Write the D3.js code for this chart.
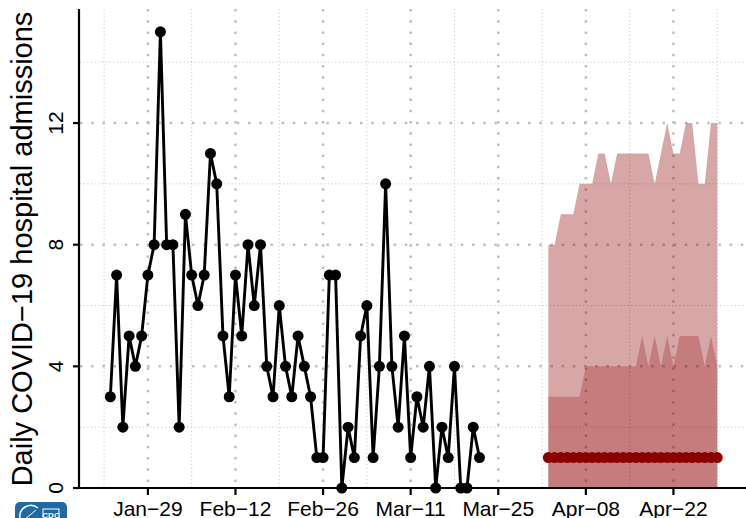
<!DOCTYPE html>
<html><head><meta charset="utf-8">
<script src="https://cdn.jsdelivr.net/npm/d3@7"></script>
<style>html,body{margin:0;padding:0;background:#fff;overflow:hidden}</style>
</head><body><svg id="c" width="746" height="518"></svg>
<script>
// ---- data ----
const obsStart = [2024, 0, 23];
const observed = [3,7,2,5,4,5,7,8,15,
  8,8,2,9,7,6,7,11,10,5,3,7,5,8,6,8,4,3,6,4,3,5,4,3,1,1,7,7,0,
  2,1,5,6,1,4,10,4,2,5,1,3,2,4,0,2,1,4,0,0,2,1];
const fcStart = [2024, 3, 2];
const fcMedian = [1,1,1,1,1,1,1,1,1,1,1,1,1,1,1,1,1,1,1,1,1,1,1,1,1,1,1,1];
const fcLower95 = [0,0,0,0,0,0,0,0,0,0,0,0,0,0,0,0,0,0,0,0,0,0,0,0,0,0,0,0];
const fcUpper95 = [8,8,9,9,9,10,10,10,11,11,10,11,11,11,11,11,11,10,11,12,11,11,12,12,10,10,12,12];
const fcLower50 = [0,0,0,0,0,0,0,0,0,0,0,0,0,0,0,0,0,0,0,0,0,0,0,0,0,0,0,0];
const fcUpper50 = [3,3,3,3,3,3,4,4,4,4,4,4,4,4,4,5,4,5,4,5,4,5,5,5,5,4,5,4];
const xTickDates = [[2024,0,29],[2024,1,12],[2024,1,26],[2024,2,11],[2024,2,25],[2024,3,8],[2024,3,22]];
const xTickLabels = ["Jan\u221229","Feb\u221212","Feb\u221226","Mar\u221211","Mar\u221225","Apr\u221208","Apr\u221222"];
const xMinorDates = [[2024,0,22],[2024,1,5],[2024,1,19],[2024,2,4],[2024,2,18],[2024,3,1],[2024,3,15],[2024,3,29]];
const yTicks = [0,4,8,12];
const yMinor = [2,6,10,14];
const yLabel = "Daily COVID\u221219 hospital admissions";

// ---- setup ----
const mk = a => new Date(a[0], a[1], a[2]);
const obsDates = observed.map((v,i) => d3.timeDay.offset(mk(obsStart), i));
const fcDates = fcMedian.map((v,i) => d3.timeDay.offset(mk(fcStart), i));
const obs = observed.map((v,i) => ({d: obsDates[i], v}));
const fc = fcMedian.map((v,i) => ({d: fcDates[i], m: v, l95: fcLower95[i], u95: fcUpper95[i], l50: fcLower50[i], u50: fcUpper50[i]}));

const dMin = obsDates[0], dMax = fcDates[fcDates.length-1];
const span = dMax - dMin;
const x = d3.scaleTime().domain([new Date(+dMin - span*0.05), new Date(+dMax + span*0.05)]).range([80, 747.6]);
const y = d3.scaleLinear().domain([0, 15.75]).range([488, 9]);

const svg = d3.select("#c");
svg.append("rect").attr("width",746).attr("height",518).attr("fill","#fff");

// grid
const g = svg.append("g");
g.selectAll(".hmin").data(yMinor).enter().append("line")
  .attr("x1",80).attr("x2",746).attr("y1",d=>y(d)).attr("y2",d=>y(d))
  .attr("stroke","#bdbdbd").attr("stroke-width",1).attr("stroke-dasharray","1 2.7");
g.selectAll(".vmin").data(xMinorDates).enter().append("line")
  .attr("x1",d=>x(mk(d))).attr("x2",d=>x(mk(d))).attr("y1",9).attr("y2",488)
  .attr("stroke","#bdbdbd").attr("stroke-width",1).attr("stroke-dasharray","1 2.7");
g.selectAll(".hmaj").data(yTicks.filter(d=>d>0)).enter().append("line")
  .attr("x1",80).attr("x2",746).attr("y1",d=>y(d)).attr("y2",d=>y(d))
  .attr("stroke","#bfbfbf").attr("stroke-width",2.5).attr("stroke-dasharray","2.5 8.7");
g.selectAll(".vmaj").data(xTickDates).enter().append("line")
  .attr("x1",d=>x(mk(d))).attr("x2",d=>x(mk(d))).attr("y1",9).attr("y2",488)
  .attr("stroke","#bfbfbf").attr("stroke-width",2.5).attr("stroke-dasharray","2.5 8.7");

// bands
const area95 = d3.area().x(d=>x(d.d)).y0(d=>y(d.l95)).y1(d=>y(d.u95));
const area50 = d3.area().x(d=>x(d.d)).y0(d=>y(d.l50)).y1(d=>y(d.u50));
svg.append("path").datum(fc).attr("d",area95).attr("fill","#8b0000").attr("fill-opacity",0.35);
svg.append("path").datum(fc).attr("d",area50).attr("fill","#8b0000").attr("fill-opacity",0.25);

// median
svg.append("g").selectAll("circle").data(fc).enter().append("circle")
  .attr("cx",d=>x(d.d)).attr("cy",d=>y(d.m)).attr("r",5.5).attr("fill","#8b0000");

// observed
svg.append("path").datum(obs)
  .attr("d", d3.line().x(d=>x(d.d)).y(d=>y(d.v)))
  .attr("fill","none").attr("stroke","#000").attr("stroke-width",2.9).attr("stroke-linejoin","round");
svg.append("g").selectAll("circle").data(obs).enter().append("circle")
  .attr("cx",d=>x(d.d)).attr("cy",d=>y(d.v)).attr("r",5.5).attr("fill","#000");

// axes lines
svg.append("line").attr("x1",79).attr("x2",79).attr("y1",9).attr("y2",489).attr("stroke","#000").attr("stroke-width",2.2);
svg.append("line").attr("x1",78).attr("x2",746).attr("y1",488).attr("y2",488).attr("stroke","#000").attr("stroke-width",2.2);

// x ticks
const xt = svg.append("g").selectAll("g").data(xTickDates).enter().append("g")
  .attr("transform",d=>`translate(${x(mk(d))},0)`);
xt.append("line").attr("y1",488).attr("y2",495).attr("stroke","#000").attr("stroke-width",2.2);
xt.append("text").attr("y",516).attr("text-anchor","middle")
  .attr("font-family","Liberation Sans, Arial, sans-serif").attr("font-size",21).attr("fill","#000")
  .text((d,i)=>xTickLabels[i]);

// y ticks
const yt = svg.append("g").selectAll("g").data(yTicks).enter().append("g");
yt.append("line").attr("x1",73).attr("x2",79).attr("y1",d=>y(d)).attr("y2",d=>y(d)).attr("stroke","#000").attr("stroke-width",2.2);
yt.append("text").attr("transform",d=>`translate(62.5,${y(d)}) rotate(-90)`).attr("text-anchor","middle")
  .attr("font-family","Liberation Sans, Arial, sans-serif").attr("font-size",21).attr("fill","#000")
  .text(d=>d);

// y label
svg.append("text").attr("transform","translate(31.5,249) rotate(-90)").attr("text-anchor","middle")
  .attr("font-family","Liberation Sans, Arial, sans-serif").attr("font-size",29).attr("fill","#000")
  .text(yLabel);

// CDC logo (partially visible)
const logo = svg.append("g");
logo.append("rect").attr("x",15).attr("y",502).attr("width",52).attr("height",34).attr("rx",5).attr("fill","#1f6aa5");
logo.append("path").attr("d","M20,518 A11,11 0 0 1 38,508").attr("fill","none").attr("stroke","#fff").attr("stroke-width",1.5);
logo.append("path").attr("d","M24,520 L36,510").attr("fill","none").attr("stroke","#fff").attr("stroke-width",1);
logo.append("rect").attr("x",43).attr("y",509).attr("width",16).attr("height",14).attr("fill","none").attr("stroke","#fff").attr("stroke-width",1);
logo.append("text").attr("x",51).attr("y",518).attr("text-anchor","middle").attr("font-family","Liberation Sans, Arial, sans-serif")
  .attr("font-size",8).attr("font-weight","bold").attr("fill","#fff").text("CDC");
</script></body></html>
